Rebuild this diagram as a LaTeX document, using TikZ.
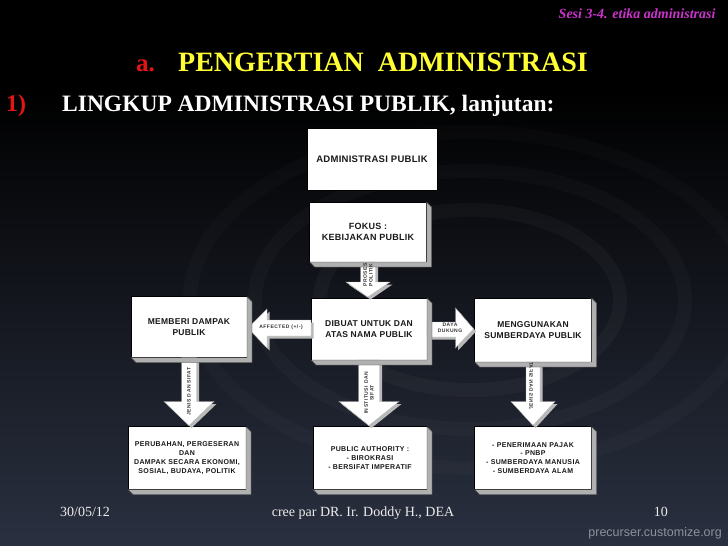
\documentclass[tikz,border=0pt]{standalone}
\usepackage{fontspec}
\setmainfont{Liberation Serif}
\setsansfont{Liberation Sans}
\newfontfamily\boxfont[LetterSpace=3]{Liberation Sans}
\newfontfamily\smallboxfont[LetterSpace=5]{Liberation Sans}
\newfontfamily\tagfont[LetterSpace=10]{Liberation Sans}
\usetikzlibrary{calc}
\definecolor{bgbot}{RGB}{42,48,64}
\definecolor{sesicol}{RGB}{204,51,204}
\definecolor{titlered}{RGB}{230,20,20}
\definecolor{titleyel}{RGB}{255,255,51}
\definecolor{sidegray}{RGB}{176,176,176}
\definecolor{markgray}{RGB}{140,146,156}
\tikzset{
	panel/.style={draw=black,fill=white,line width=.5pt,outer sep=0pt,inner sep=2pt,align=center,text=black!90,font=\boxfont\bfseries\fontsize{8.5}{11.5}\selectfont},
	smallpanel/.style={panel,font=\smallboxfont\bfseries\fontsize{7}{8.8}\selectfont},
	extrude/.style={fill=sidegray,draw=black!75,line width=.4pt},
	blockarrow/.style={fill=white,draw=gray!60,line width=.4pt,preaction={fill=gray!55,draw=none,transform canvas={shift={(2.5pt,-2.5pt)}}}},
	tag/.style={font=\tagfont\bfseries\fontsize{5}{5.8}\selectfont,text=black!80,inner sep=0pt,align=center},
}
\begin{document}
\begin{tikzpicture}[x=1pt,y=-1pt]
		\useasboundingbox (0,0) rectangle (728,546);
		% background
		\fill[black] (0,0) rectangle (728,546);
		\shade[top color=black,bottom color=bgbot] (0,90) rectangle (728,546);
		\foreach \r/\o in {150/.03,215/.025,280/.02} \draw[white,opacity=\o,line width=14pt] (470,300) ellipse ({\r} and {0.6*\r});
		% heading
		\node[anchor=east,text=sesicol,font=\bfseries\itshape\fontsize{14}{16}\selectfont] (sesi) at (719,14) {Sesi 3-4. etika administrasi};
		\node[anchor=base west,text=titlered,font=\bfseries\fontsize{25}{28}\selectfont,inner sep=0pt] (sub) at (136,71) {a.};
		\node[anchor=base west,text=titleyel,font=\bfseries\fontsize{28}{30}\selectfont,inner sep=0pt] (judul) at (178,71) {PENGERTIAN\ \ ADMINISTRASI};
		\node[anchor=base west,text=titlered,font=\bfseries\fontsize{24}{26}\selectfont,inner sep=0pt] (nomor) at (6,111) {1)};
		\node[anchor=base west,text=white,font=\bfseries\fontsize{23.5}{26}\selectfont,inner sep=0pt] (lingkup) at (62,111) {LINGKUP ADMINISTRASI PUBLIK, lanjutan:};
		% boxes
		\node[panel,font=\boxfont\bfseries\fontsize{9.5}{11}\selectfont,minimum width=130,minimum height=62] (admin) at (372,159) {ADMINISTRASI PUBLIK};
		\node[panel,font=\boxfont\bfseries\fontsize{9}{11.5}\selectfont,minimum width=117,minimum height=60] (fokus) at (368,232) {FOKUS :\\KEBIJAKAN PUBLIK};
		\node[panel,minimum width=116,minimum height=61] (memberi) at (189,327) {MEMBERI DAMPAK\\PUBLIK};
		\node[panel,minimum width=116,minimum height=62] (dibuat) at (369,329) {DIBUAT UNTUK DAN\\ATAS NAMA PUBLIK};
		\node[panel,minimum width=117,minimum height=64] (sumber) at (533,330) {MENGGUNAKAN\\SUMBERDAYA PUBLIK};
		\node[smallpanel,minimum width=118,minimum height=63] (perubahan) at (187,458) {PERUBAHAN, PERGESERAN\\DAN\\DAMPAK SECARA EKONOMI,\\SOSIAL, BUDAYA, POLITIK};
		\node[smallpanel,minimum width=114,minimum height=63] (authority) at (370,458) {PUBLIC AUTHORITY :\\- BIROKRASI\\- BERSIFAT IMPERATIF};
		\node[smallpanel,minimum width=117,minimum height=63] (pajak) at (533,458) {- PENERIMAAN PAJAK\\- PNBP\\- SUMBERDAYA MANUSIA\\- SUMBERDAYA ALAM};
		% block arrows
		\foreach \a/\b/\s/\h/\l in {fokus/dibuat/7.5/22/16,memberi/perubahan/7.5/25/25,dibuat/authority/10.5/30/25,sumber/pajak/7/22/25}
			\path[blockarrow] let \p1=(\a.south), \p2=(\b.north) in (\x1-\s*1pt,\y1) -- (\x1+\s*1pt,\y1) -- (\x1+\s*1pt,\y2+\l*1pt) -- (\x1+\h*1pt,\y2+\l*1pt) -- (\x1,\y2+1pt) -- (\x1-\h*1pt,\y2+\l*1pt) -- (\x1-\s*1pt,\y2+\l*1pt) -- cycle;
		\path[blockarrow] let \p1=(dibuat.west), \p2=(memberi.east) in (\x1,\y1+9pt) -- (\x2+20pt,\y1+9pt) -- (\x2+20pt,\y1+20pt) -- (\x2+1pt,\y1+1pt) -- (\x2+20pt,\y1-19pt) -- (\x2+20pt,\y1-7pt) -- (\x1,\y1-7pt) -- cycle;
		\path[blockarrow] let \p1=(dibuat.east), \p2=(sumber.west) in (\x1,\y1+7pt) -- (\x2-19pt,\y1+7pt) -- (\x2-19pt,\y1+21pt) -- (\x2-1pt,\y1) -- (\x2-19pt,\y1-19pt) -- (\x2-19pt,\y1-8pt) -- (\x1,\y1-8pt) -- cycle;
		% 3d sides of the boxes
		\foreach \n in {fokus,memberi,dibuat,sumber,perubahan,authority,pajak} \draw[extrude] (\n.north east) -- ++(5,5) -- ($(\n.south east)+(5,5)$) -- ($(\n.south west)+(5,5)$) -- (\n.south west) -- (\n.south east) -- cycle;
		% arrow labels
		\node[tag,rotate=90] (proses) at ($(fokus.south)+(0,13)$) {PROSES\\POLITIK};
		\node[tag] (affected) at ($(dibuat.west)+(-30,-2)$) {AFFECTED (+/-)};
		\node[tag] (daya) at ($(dibuat.east)+(23,-1)$) {DAYA\\DUKUNG};
		\node[tag,rotate=90] (jenis) at ($(memberi.south)+(0,34)$) {JENIS DAN SIFAT};
		\node[tag,rotate=90] (institusi) at ($(dibuat.south)+(0,33)$) {INSTITUSI DAN\\SIFAT};
		\node[tag,xscale=-1,rotate=90] (jenis2) at ($(sumber.south)+(-2,24)$) {JENIS DAN SIFAT};
		% footer
		\node[anchor=base west,text=white!92!black,font=\fontsize{14}{16}\selectfont,inner sep=0pt] (tanggal) at (60,516) {30/05/12};
		\node[anchor=base,text=white!92!black,font=\fontsize{14}{16}\selectfont,inner sep=0pt] (cree) at (363,516) {cree par DR. Ir. Doddy H., DEA};
		\node[anchor=base east,text=white!92!black,font=\fontsize{14}{16}\selectfont,inner sep=0pt] (hal) at (668,516) {10};
		\node[anchor=base east,text=markgray,font=\sffamily\fontsize{12.5}{14}\selectfont,inner sep=0pt] (mark) at (722,536) {precurser.customize.org};
	\end{tikzpicture}
\end{document}
